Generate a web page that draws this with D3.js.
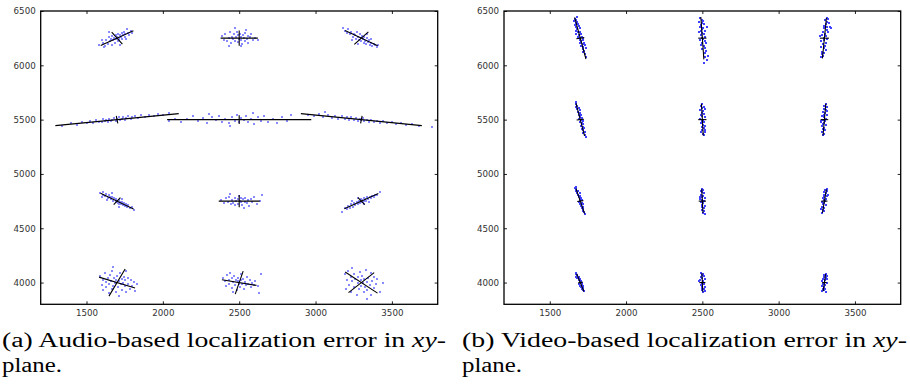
<!DOCTYPE html>
<html><head><meta charset="utf-8">
<script src="https://cdn.jsdelivr.net/npm/d3@7"></script>
<style>html,body{margin:0;padding:0;background:#fff;}svg{display:block;}
.cap{font-family:"Liberation Serif","Times New Roman",serif;font-size:20px;fill:#000;}
</style>
</head><body>
<svg id="c" width="910" height="386"></svg>
<script>
// ---------- data ----------
const xTicks = [1500, 2000, 2500, 3000, 3500];
const yTicks = [4000, 4500, 5000, 5500, 6000, 6500];
const xDomain = [1200, 3800];
const yDomain = [3800, 6500];

// true source positions (grid)
const centers = [
  [1700, 6250], [2500, 6250], [3300, 6250],
  [1700, 5500], [2500, 5500], [3300, 5500],
  [1700, 4750], [2500, 4750], [3300, 4750],
  [1700, 4000], [2500, 4000], [3300, 4000]
];

// audio: half-vectors of the two principal axes (data units)
const audioAxisA = [
  [107, 68], [122, 0], [-107, 70],
  [404, 55], [472, 0], [396, -55],
  [108, -72], [134, 0], [111, 70],
  [118, -50], [113, -26], [106, -97]
];
const audioAxisB = [
  [35, -55], [0, 70], [46, 58],
  [-5, 35], [0, 40], [5, 35],
  [22, 33], [0, 57], [-22, 33],
  [53, 125], [26, 106], [84, 92]
];
// video: half-vectors of the two principal axes
const videoAxisA = [
  [-37, 192], [-10, 195], [13, 186],
  [-28, 150], [-6, 146], [9, 146],
  [-28, 115], [-4, 110], [13, 108],
  [-24, 82], [-3, 85], [8, 78]
];
const videoAxisB = [
  [26, 5], [27, 0], [30, 0],
  [24, 4], [27, 0], [25, 0],
  [20, 4], [24, 0], [20, 0],
  [15, 4], [20, 0], [15, 0]
];

// audio estimate offsets from each true position (data units)
const audioPoints = [
  [[-120,-60],[-95,-40],[-80,-70],[-70,-20],[-60,-50],[-55,10],[-45,-30],[-40,-5],[-35,-60],[-30,20],[-25,-15],[-20,5],[-15,-40],[-10,30],[-5,-10],[0,15],[5,-25],[8,40],[12,5],[15,-20],[20,25],[25,10],[30,45],[35,-5],[40,30],[45,60],[50,15],[55,40],[60,-10],[70,50],[80,30],[90,70],[100,45],[-50,60],[20,-60],[-100,-20],[65,85],[-85,-85]],
  [[-115,20],[-100,-15],[-90,40],[-80,-30],[-70,5],[-60,55],[-55,-45],[-45,15],[-40,-10],[-35,35],[-25,-25],[-20,10],[-15,60],[-10,-35],[-5,25],[0,-5],[5,40],[10,-20],[15,15],[20,-50],[25,30],[30,0],[35,-30],[40,45],[50,-10],[55,20],[60,-40],[70,10],[80,35],[90,-20],[105,5],[120,-15],[-30,95],[10,-75],[-65,-70],[45,75]],
  [[-110,70],[-95,50],[-85,80],[-75,35],[-65,55],[-55,10],[-50,40],[-40,25],[-35,-10],[-30,55],[-20,15],[-15,-20],[-10,40],[-5,5],[0,-30],[5,20],[10,-5],[15,-45],[20,10],[25,-25],[30,-55],[35,5],[45,-35],[50,-15],[55,-60],[65,-40],[70,-75],[80,-50],[90,-65],[100,-80],[110,-60],[-20,-55],[40,35],[-120,95],[60,-5],[-60,-20]],
  [[-360,-55],[-300,-30],[-260,-45],[-230,-20],[-200,-35],[-180,-10],[-160,-30],[-140,-5],[-120,-25],[-100,-20],[-90,5],[-80,-15],[-70,-5],[-60,-25],[-50,10],[-40,-10],[-30,0],[-20,15],[-10,-15],[0,5],[10,20],[20,-5],[30,10],[40,25],[50,0],[60,15],[75,30],[90,5],[100,20],[120,35],[140,15],[160,40],[185,25],[210,45],[240,30],[270,50],[300,40],[340,60]],
  [[-460,-15],[-420,10],[-380,-25],[-340,5],[-300,30],[-270,-10],[-240,15],[-210,-30],[-180,20],[-150,-5],[-130,35],[-110,-20],[-90,10],[-70,-35],[-50,25],[-30,-10],[-15,40],[0,-20],[15,15],[30,-5],[45,30],[60,-25],[80,10],[100,-40],[120,20],[140,-10],[165,35],[190,-20],[220,5],[250,-35],[280,25],[310,-15],[340,40],[-200,55],[90,60],[-60,-55]],
  [[-350,45],[-310,30],[-280,50],[-250,25],[-220,40],[-190,15],[-170,35],[-150,10],[-130,30],[-110,5],[-95,25],[-80,0],[-65,20],[-50,-5],[-35,15],[-20,-10],[-10,10],[0,-5],[10,15],[20,-15],[35,0],[50,-20],[65,-5],[80,-25],[100,-10],[120,-30],[145,-15],[170,-35],[200,-20],[230,-40],[260,-30],[290,-45],[330,-40],[380,-55],[460,-70],[-240,70]],
  [[-110,75],[-95,60],[-90,85],[-80,45],[-70,65],[-60,30],[-55,55],[-45,40],[-40,15],[-30,35],[-25,5],[-20,25],[-10,-5],[-5,20],[0,0],[5,-15],[10,10],[15,-25],[20,-5],[25,-30],[30,-10],[40,-35],[45,-15],[50,-45],[60,-25],[65,-50],[75,-40],[85,-60],[95,-55],[-65,10],[30,20],[-30,70],[10,-55],[-100,35],[110,-80]],
  [[-120,10],[-100,-20],[-85,25],[-75,-5],[-65,40],[-55,-30],[-45,10],[-40,-15],[-30,30],[-25,-40],[-20,5],[-10,20],[-5,-25],[0,45],[5,0],[10,-10],[15,30],[20,-35],[25,15],[35,-5],[40,25],[50,-20],[55,10],[65,-45],[75,20],[85,-10],[100,35],[115,-25],[135,5],[150,60],[-60,65],[30,-60]],
  [[-130,-100],[-110,-65],[-95,-75],[-85,-45],[-75,-60],[-65,-30],[-55,-50],[-45,-20],[-40,-40],[-30,-10],[-25,-30],[-15,0],[-10,-20],[-5,15],[0,-5],[5,10],[10,-10],[15,25],[20,5],[25,20],[30,0],[40,35],[45,15],[55,40],[60,25],[70,50],[80,35],[90,60],[105,55],[-60,5],[20,-30],[-20,30],[50,-5],[120,85]],
  [[-110,60],[-100,-20],[-95,25],[-90,-70],[-80,90],[-75,5],[-70,-45],[-60,40],[-55,-100],[-50,-15],[-45,70],[-40,15],[-35,-60],[-30,110],[-25,-30],[-20,45],[-15,-5],[-10,-85],[-5,25],[0,60],[5,-40],[10,10],[15,-120],[20,85],[25,-15],[30,35],[35,-65],[40,0],[45,55],[50,-30],[55,20],[60,-90],[70,45],[75,-10],[85,-55],[90,25],[100,-35],[110,5],[120,-75],[130,-10],[-25,140],[60,110]],
  [[-105,45],[-95,10],[-85,-30],[-80,70],[-70,20],[-65,-15],[-60,90],[-50,40],[-45,-50],[-40,5],[-35,60],[-30,-25],[-20,25],[-15,-70],[-10,10],[-5,45],[0,-10],[5,-40],[10,20],[15,75],[20,-15],[25,35],[30,-55],[40,5],[45,-25],[50,50],[60,-10],[70,25],[75,-40],[85,0],[95,-20],[105,15],[120,-30],[140,80],[130,-100],[-40,-85]],
  [[-110,80],[-100,-60],[-95,20],[-85,110],[-80,-20],[-70,50],[-65,-90],[-60,10],[-50,75],[-45,-40],[-40,30],[-30,-110],[-25,-5],[-20,55],[-15,-60],[-10,100],[-5,20],[0,-30],[5,65],[10,-5],[15,-85],[20,35],[25,-45],[30,120],[35,5],[40,-70],[45,40],[55,-20],[60,85],[65,-110],[70,15],[80,-50],[85,55],[95,-15],[105,30],[120,-90],[145,0],[-60,130],[40,-150]]
];

// video estimate offsets from each true position (data units)
const videoPoints = [
  [[-35,180],[-40,160],[-25,170],[-30,140],[-20,150],[-35,120],[-15,130],[-25,100],[-10,110],[-20,80],[-30,70],[-5,90],[-15,55],[-25,40],[0,60],[-10,30],[5,40],[-15,10],[10,15],[0,0],[-5,-15],[15,-5],[5,-30],[20,-20],[-5,-45],[15,-50],[25,-40],[5,-70],[20,-80],[30,-65],[15,-100],[25,-115],[35,-95],[20,-130],[30,-150],[40,-170],[-20,195]],
  [[-15,190],[-5,170],[5,160],[-20,150],[0,140],[-10,120],[10,130],[-15,100],[5,95],[-5,80],[15,70],[-20,60],[0,50],[10,35],[-10,30],[20,15],[-5,5],[5,-10],[-15,-20],[15,-25],[0,-40],[25,-45],[-10,-60],[10,-70],[20,-90],[0,-100],[25,-120],[15,-140],[35,-160],[20,-175],[30,-200],[10,-230],[-10,70],[30,100]],
  [[15,190],[25,175],[5,165],[20,150],[30,140],[10,130],[-5,115],[20,105],[35,100],[0,90],[15,75],[-10,60],[25,55],[5,40],[-15,30],[10,20],[-5,5],[20,-5],[0,-20],[-20,-25],[10,-40],[-10,-55],[5,-70],[-20,-80],[-5,-95],[10,-110],[-15,-125],[0,-140],[-10,-160],[-25,-170],[-15,-150],[40,90],[-30,20]],
  [[-30,140],[-20,130],[-25,115],[-10,110],[-20,95],[-5,85],[-15,70],[0,60],[-10,45],[5,40],[-5,25],[10,15],[-10,5],[5,0],[15,-10],[0,-20],[10,-35],[20,-40],[5,-55],[15,-65],[25,-75],[10,-85],[20,-100],[30,-110],[20,-125],[30,-140],[35,-160],[-25,160]],
  [[0,140],[-10,125],[10,120],[-5,105],[15,95],[-15,85],[5,75],[-5,60],[10,50],[-10,40],[0,30],[15,20],[-15,10],[5,0],[-5,-10],[10,-20],[-10,-30],[5,-45],[15,-55],[-5,-65],[10,-80],[0,-95],[-10,-110],[15,-115],[5,-130],[10,-145],[20,-100]],
  [[10,140],[0,125],[15,115],[-5,100],[10,90],[20,80],[-10,70],[5,60],[-5,45],[15,40],[-15,30],[0,20],[10,10],[-10,0],[5,-10],[-20,-15],[0,-30],[-10,-40],[10,-50],[-15,-60],[0,-75],[-10,-90],[5,-100],[-15,-115],[-5,-130],[-10,-145],[-25,-20]],
  [[-35,120],[-25,110],[-30,95],[-15,90],[-20,75],[-5,70],[-15,55],[0,50],[-10,35],[5,30],[-5,20],[10,10],[0,0],[-10,-5],[10,-15],[0,-25],[15,-30],[5,-45],[20,-50],[10,-65],[20,-75],[15,-90],[25,-100],[30,-115],[-25,130]],
  [[-5,110],[5,100],[-10,90],[0,80],[10,70],[-10,60],[5,50],[-5,40],[15,30],[-15,20],[0,10],[10,0],[-10,-10],[5,-20],[-5,-35],[15,-45],[0,-55],[10,-65],[-5,-80],[10,-90],[5,-105],[15,-115],[-15,40]],
  [[15,110],[5,100],[20,90],[0,80],[10,70],[-5,60],[15,50],[0,40],[-10,30],[10,20],[-5,10],[5,0],[-15,-10],[0,-20],[-10,-30],[10,-40],[-15,-50],[-5,-60],[-20,-70],[-10,-85],[-5,-95],[-15,-105],[25,60]],
  [[-30,75],[-20,70],[-25,55],[-10,50],[-20,40],[0,35],[-10,25],[5,15],[-5,10],[10,0],[0,-5],[-10,-15],[10,-20],[0,-30],[15,-35],[5,-45],[20,-50],[10,-60],[20,-70],[25,-80],[-30,90]],
  [[-10,90],[5,80],[-5,70],[10,60],[-10,50],[0,40],[15,30],[-15,20],[5,10],[-5,0],[10,-10],[-10,-20],[0,-30],[15,-40],[-5,-50],[10,-60],[0,-70],[20,-80],[5,-90],[-20,10]],
  [[10,80],[0,70],[15,60],[-5,50],[10,40],[-10,30],[5,20],[-15,10],[0,0],[15,-5],[-10,-15],[5,-25],[-15,-35],[0,-45],[-10,-55],[5,-60],[-5,-70],[-15,-80],[10,-90],[20,30]]
];

const captionA = ["(a) Audio-based localization error in ", "xy", "-"];
const captionB = ["(b) Video-based localization error in ", "xy", "-"];
const captionLine2 = "plane.";

// ---------- drawing ----------
const svg = d3.select("#c");

function panel(x0, x1, axisA, axisB, points, dotColor, dotSize) {
  const top = 11, bottom = 304.3;
  const x = d3.scaleLinear().domain(xDomain).range([x0, x1]);
  const y = d3.scaleLinear().domain(yDomain).range([bottom, top]);
  const g = svg.append("g");

  // points
  centers.forEach((c, i) => {
    g.append("g").attr("shape-rendering", "crispEdges")
      .selectAll("rect").data(points[i]).join("rect")
      .attr("x", d => Math.round(x(c[0] + d[0])) - 1)
      .attr("y", d => Math.round(y(c[1] + d[1])) - 1)
      .attr("width", dotSize).attr("height", dotSize)
      .attr("fill", dotColor);
  });

  // principal axes
  centers.forEach((c, i) => {
    [axisA[i], axisB[i]].forEach(v => {
      g.append("line")
        .attr("x1", x(c[0] - v[0])).attr("y1", y(c[1] - v[1]))
        .attr("x2", x(c[0] + v[0])).attr("y2", y(c[1] + v[1]))
        .attr("stroke", "#000").attr("stroke-width", 1.1);
    });
  });

  // axes
  const fontStyle = s => s.attr("font-family", "DejaVu Sans, sans-serif")
    .attr("font-size", "8.7px").attr("fill", "#333");
  const bx = g.append("g").attr("transform", `translate(0,${bottom})`)
    .call(d3.axisBottom(x).tickValues(xTicks).tickSize(-3).tickPadding(6).tickFormat(d3.format("d")));
  const tx = g.append("g").attr("transform", `translate(0,${top})`)
    .call(d3.axisTop(x).tickValues(xTicks).tickSize(-3).tickFormat(""));
  const ly = g.append("g").attr("transform", `translate(${x0},0)`)
    .call(d3.axisLeft(y).tickValues(yTicks).tickSize(-3).tickPadding(5).tickFormat(d3.format("d")));
  const ry = g.append("g").attr("transform", `translate(${x1},0)`)
    .call(d3.axisRight(y).tickValues(yTicks).tickSize(-3).tickFormat(""));
  [bx, tx, ly, ry].forEach(a => {
    a.select(".domain").remove();
    a.selectAll(".tick line").attr("stroke", "#222").attr("stroke-width", 1);
    a.selectAll("text").call(fontStyle);
  });
  g.append("rect").attr("x", x0).attr("y", top)
    .attr("width", x1 - x0).attr("height", bottom - top)
    .attr("fill", "none").attr("stroke", "#000").attr("stroke-width", 1.3);
}

panel(40.7, 437.7, audioAxisA, audioAxisB, audioPoints, "#8a8aff", 2);
panel(504, 900.7, videoAxisA, videoAxisB, videoPoints, "#4040ff", 2);

function caption(xs, parts, width) {
  const t = svg.append("text").attr("class", "cap").attr("x", xs).attr("y", 347)
    .attr("textLength", width).attr("lengthAdjust", "spacingAndGlyphs");
  t.append("tspan").text(parts[0]);
  t.append("tspan").attr("font-style", "italic").text(parts[1]);
  t.append("tspan").text(parts[2]);
  svg.append("text").attr("class", "cap").attr("x", xs).attr("y", 372)
    .attr("textLength", 60).attr("lengthAdjust", "spacingAndGlyphs")
    .text(captionLine2);
}
caption(2, captionA, 444);
caption(462, captionB, 445);
</script>
</body></html>
